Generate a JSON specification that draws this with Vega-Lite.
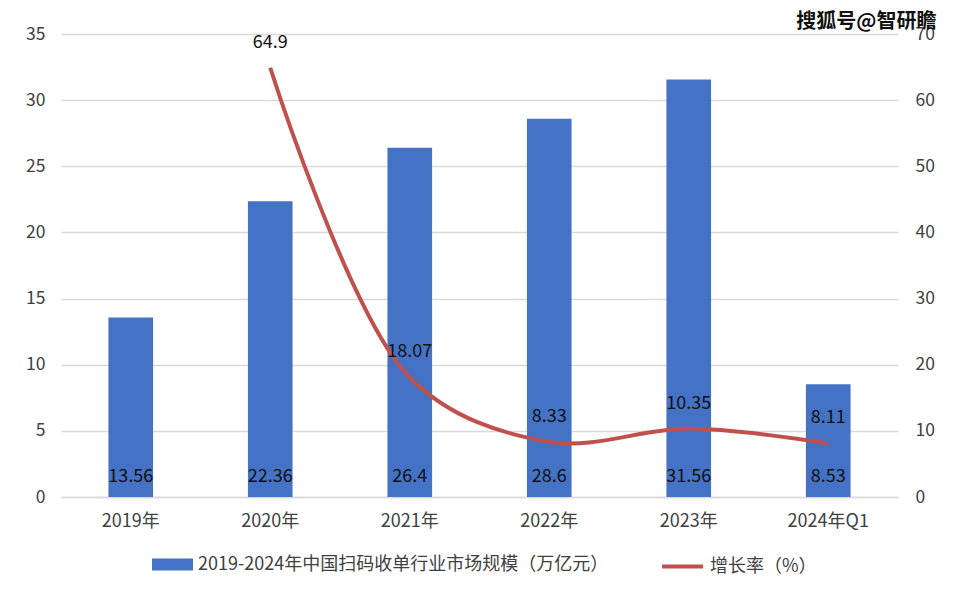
{
  "$schema": "https://vega.github.io/schema/vega-lite/v6.json",
  "width": 837,
  "height": 463,
  "autosize": {"type": "none"},
  "padding": {"left": 61, "top": 34, "right": 60, "bottom": 102},
  "background": "white",
  "config": {
    "font": "Noto Sans CJK SC",
    "view": {"stroke": null},
    "axis": {"labelFont": "Noto Sans CJK SC", "labelFontSize": 17.5, "labelColor": "#404040", "ticks": false, "domain": false, "gridColor": "#d9d9d9", "gridWidth": 1.5, "title": null}
  },
  "title": {"text": "搜狐号@智研瞻", "anchor": "end", "orient": "top", "offset": -7, "dx": 2, "fontSize": 20, "fontWeight": "bold", "color": "#111111", "font": "Noto Sans CJK SC"},
  "data": {"values": [
    {"cat": "2019年", "size": 13.56, "growth": null},
    {"cat": "2020年", "size": 22.36, "growth": 64.9},
    {"cat": "2021年", "size": 26.4, "growth": 18.07},
    {"cat": "2022年", "size": 28.6, "growth": 8.33},
    {"cat": "2023年", "size": 31.56, "growth": 10.35},
    {"cat": "2024年Q1", "size": 8.53, "growth": 8.11}
  ]},
  "encoding": {
    "x": {"field": "cat", "type": "nominal", "sort": null,
      "scale": {"paddingInner": 0.68, "paddingOuter": 0.34},
      "axis": {"labelAngle": 0, "labelPadding": 15, "labelFontSize": 18, "domain": true, "domainColor": "#d9d9d9", "domainWidth": 1.5, "grid": false}}
  },
  "layer": [
    {
      "layer": [
        {
          "mark": {"type": "bar", "color": "#4472C4"},
          "encoding": {
            "y": {"field": "size", "type": "quantitative", "scale": {"domain": [0, 35]},
              "axis": {"values": [0, 5, 10, 15, 20, 25, 30, 35], "labelPadding": 16, "grid": true}},
            "fill": {"datum": "2019-2024年中国扫码收单行业市场规模（万亿元）", "type": "nominal",
              "scale": {"range": ["#4472C4"]},
              "legend": {
                "orient": "none", "legendX": 91, "legendY": 510, "title": null,
                "labelFontSize": 18, "labelColor": "#404040", "labelFont": "Noto Sans CJK SC", "labelLimit": 600,
                "symbolType": "M-1,-0.29H1V0.29H-1Z", "symbolSize": 1681, "symbolStrokeWidth": 0, "labelOffset": 5, "symbolOpacity": 1
              }}
          }
        },
        {
          "mark": {"type": "text", "fontSize": 18, "color": "#111111", "baseline": "middle", "dy": -20},
          "encoding": {
            "y": {"datum": 0, "type": "quantitative"},
            "text": {"field": "size", "type": "quantitative"}
          }
        }
      ]
    },
    {
      "transform": [{"filter": "datum.growth != null"}],
      "layer": [
        {
          "mark": {"type": "line", "interpolate": "catmull-rom", "strokeWidth": 4},
          "encoding": {
            "y": {"field": "growth", "type": "quantitative", "scale": {"domain": [0, 70]},
              "axis": {"orient": "right", "values": [0, 10, 20, 30, 40, 50, 60, 70], "labelPadding": 17, "grid": false}},
            "stroke": {"datum": "增长率（%）", "type": "nominal",
              "scale": {"range": ["#C0504D"]},
              "legend": {
                "orient": "none", "legendX": 599, "legendY": 510, "title": null,
                "labelFontSize": 18, "labelColor": "#404040", "labelFont": "Noto Sans CJK SC",
                "symbolType": "stroke", "symbolSize": 1681, "symbolStrokeWidth": 4, "labelOffset": 5, "symbolOpacity": 1
              }}
          }
        },
        {
          "mark": {"type": "text", "fontSize": 18, "color": "#111111", "baseline": "middle", "dy": -25},
          "encoding": {
            "y": {"field": "growth", "type": "quantitative"},
            "text": {"field": "growth", "type": "quantitative"}
          }
        }
      ]
    }
  ],
  "resolve": {"scale": {"y": "independent"}}
}
